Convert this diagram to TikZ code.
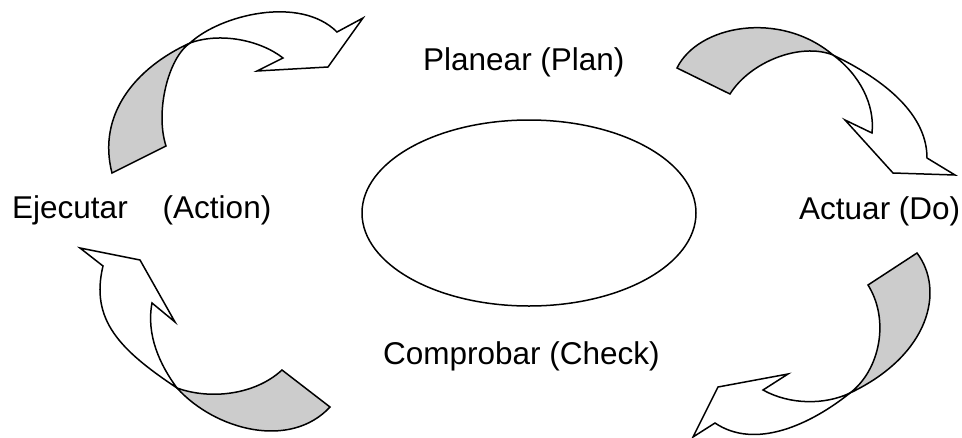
\documentclass[tikz,border=0pt]{standalone}
\usepackage{fontspec}
\setmainfont{Liberation Sans}
\usetikzlibrary{shapes.geometric}
\definecolor{ribbon}{gray}{0.8}
\tikzset{
  outline/.style={draw=black, line width=1.5pt, line join=miter},
  backside/.style={outline, fill=ribbon},
  frontside/.style={outline, fill=white},
  label/.style={font=\fontsize{31.5}{38}\selectfont, inner sep=0pt, anchor=base west},
}
\begin{document}
\begin{tikzpicture}[x=1pt,y=-1pt]
\useasboundingbox (0,0) rectangle (962,437);
\clip (0,0) rectangle (962,437);

% central ellipse
\node[ellipse, draw, line width=1.5pt, minimum width=334pt, minimum height=186pt] (core) at (529,213) {};

% phase labels
\node[label] (plan)  at (423,70)  {Planear (Plan)};
\node[label] (act)   at (12,218)  {Ejecutar\hspace{35pt}(Action)};
\node[label] (do)    at (799,219) {Actuar (Do)};
\node[label] (check) at (383,364) {Comprobar (Check)};

% twist points of the four ribbon arrows
\coordinate (tl) at (190,43);
\coordinate (tr) at (833,55);
\coordinate (br) at (850,393);
\coordinate (bl) at (177,388);

% top-left ribbon arrow
\path[backside] (112,173) .. controls (97,115) and (135,68) .. (tl)
  .. controls (168,58) and (155,112) .. (166,146) -- cycle;
\path[frontside] (tl) .. controls (220,15) and (300,-5) .. (337,32)
  -- (363,18) -- (328,67) -- (257,71) -- (283,58)
  .. controls (260,40) and (220,32) .. (tl) -- cycle;

% top-right ribbon arrow
\path[backside] (677,68) .. controls (698,25) and (780,10) .. (tr)
  .. controls (800,42) and (750,62) .. (730,94) -- cycle;
\path[frontside] (tr) .. controls (895,85) and (927,120) .. (927,158)
  -- (955,175) -- (893,173) -- (845,120) -- (872,133)
  .. controls (875,105) and (860,75) .. (tr) -- cycle;

% bottom-right ribbon arrow
\path[backside] (917,253) .. controls (945,290) and (930,355) .. (br)
  .. controls (880,370) and (890,320) .. (868,285) -- cycle;
\path[frontside] (br) .. controls (810,425) and (755,450) .. (715,423)
  -- (693,437) -- (718,387) -- (788,374) -- (763,390)
  .. controls (790,405) and (825,405) .. (br) -- cycle;

% bottom-left ribbon arrow
\path[backside] (330,407) .. controls (290,450) and (215,430) .. (bl)
  .. controls (210,400) and (255,395) .. (282,370) -- cycle;
\path[frontside] (bl) .. controls (120,350) and (90,320) .. (103,266)
  -- (80,248) -- (140,260) -- (175,322) -- (152,303)
  .. controls (146,335) and (160,365) .. (bl) -- cycle;
\end{tikzpicture}
\end{document}
